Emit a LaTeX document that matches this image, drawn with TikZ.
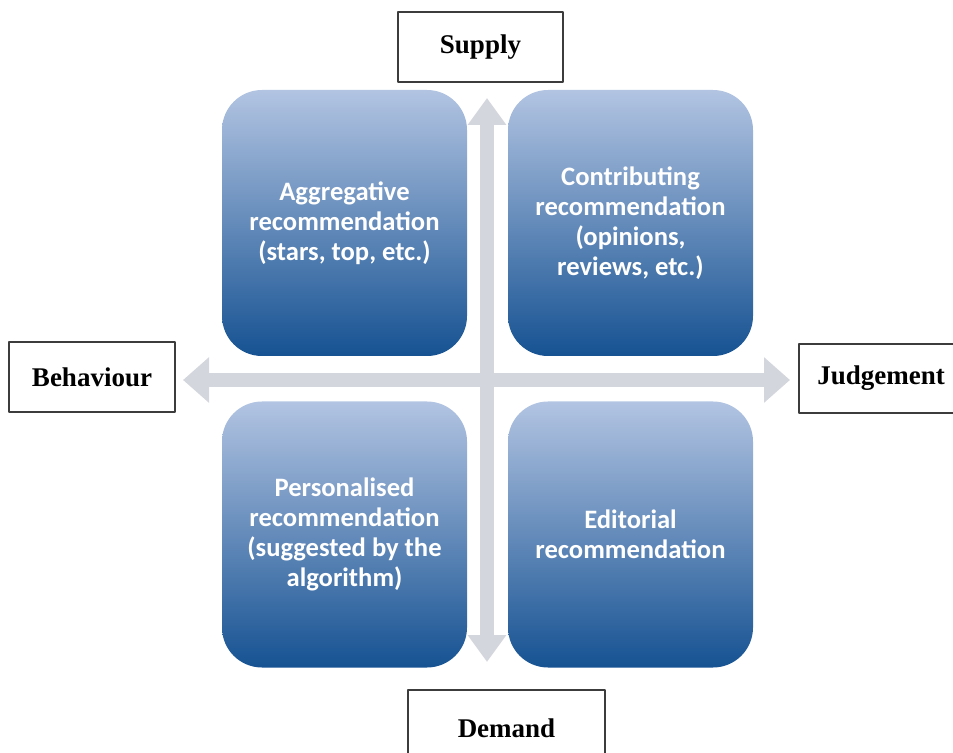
\documentclass[tikz,border=0pt]{standalone}
\usepackage{fontspec}
\setmainfont{Liberation Serif}
\newfontfamily\boxfont{Carlito}
\usetikzlibrary{arrows.meta}
\definecolor{arrowgray}{RGB}{212,214,221}
\definecolor{boxtop}{RGB}{178,196,226}
\definecolor{boxbottom}{RGB}{22,82,146}
\definecolor{framegray}{RGB}{60,60,60}
\begin{document}
\begin{tikzpicture}[x=0.5pt, y=-0.5pt, line join=round,
		quad/.style={rounded corners=20pt, top color=boxtop, bottom color=boxbottom, draw=none,
			minimum width=122.5pt, minimum height=133pt, inner sep=0pt, align=center, text=white,
			font=\boxfont\bfseries\fontsize{13.3}{15}\selectfont},
		tag/.style={draw=framegray, line width=1pt, fill=white, inner sep=0pt,
			font=\bfseries\fontsize{13.5}{16}\selectfont},
		axis/.style={draw=arrowgray, line width=7pt, line join=miter}]
			\useasboundingbox (0,0) rectangle (953,753);
			\clip (0,0) rectangle (953,753);
			% axes
			\coordinate (west) at (183,380);
			\coordinate (east) at (790,380);
			\coordinate (north) at (487,98);
			\coordinate (south) at (487,662);
			\draw[axis, {Triangle[length=13pt, width=22pt]}-{Triangle[length=13pt, width=22pt]}] (west) -- (east);
			\draw[axis, {Triangle[length=13.5pt, width=18.5pt]}-{Triangle[length=13.5pt, width=18.5pt]}] (north) -- (south);
			% quadrants
			\node[quad] (aggregative) at (344.5,223) {Aggregative\\recommendation\\(stars, top, etc.)};
			\node[quad] (contributing) at (630.5,223) {Contributing\\recommendation\\(opinions,\\reviews, etc.)};
			\node[quad] (personalised) at (344.5,534.5) {Personalised\\recommendation\\(suggested by the\\algorithm)};
			\node[quad] (editorial) at (630.5,534.5) {Editorial\\recommendation};
			% axis labels
			\node[tag, minimum width=82.5pt, minimum height=35pt] (supply) at (480.5,47) {Supply};
			\node[tag, minimum width=83pt, minimum height=35pt] (behaviour) at (92,377) {Behaviour};
			\node[tag, minimum width=82pt, minimum height=34.5pt] (judgement) at (881,378.5) {Judgement};
			\node[tag, minimum width=98.5pt, minimum height=38pt] (demand) at (506.5,728) {Demand};
		\end{tikzpicture}
\end{document}
